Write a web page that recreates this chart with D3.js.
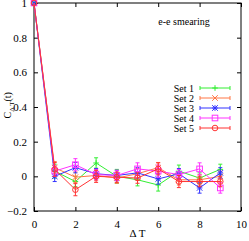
<!DOCTYPE html>
<html>
<head>
<meta charset="utf-8">
<script src="https://cdn.jsdelivr.net/npm/d3@7"></script>
<style>
  body { margin: 0; background: #fff; }
  text { font-family: "Liberation Serif", "DejaVu Serif", serif; font-size: 11px; fill: #000; }
</style>
</head>
<body>
<script>
var width = 249, height = 241
var margin = {top: 3, right: 8, bottom: 30, left: 34}

// delta T values
var steps = [0, 1, 2, 3, 4, 5, 6, 7, 8, 9]
var names = ["Set 1", "Set 2", "Set 3", "Set 4", "Set 5"]
var colors = ["#33ee33", "#ff7744", "#3333ff", "#ff33ff", "#ff3333"]
var set1 = [1, 0.03, -0.03, 0.077, 0.0, -0.02, -0.05, 0.03, -0.01, 0.04]
var set2 = [1, 0.05, -0.005, 0.005, -0.01, 0.015, 0.05, -0.02, -0.02, 0.0]
var set3 = [1, 0.0, 0.05, 0.015, 0.005, 0.02, -0.015, 0.015, -0.067, 0.02]
var set4 = [1, 0.03, 0.067, 0.01, 0.005, 0.043, 0.03, 0.01, 0.043, -0.067]
var set5 = [1, 0.04, -0.077, 0.0, -0.005, -0.01, 0.043, -0.03, -0.03, -0.03]
var err1 = [0, 0.04, 0.03, 0.03, 0.04, 0.035, 0.035, 0.035, 0.03, 0.03]
var err2 = [0, 0.035, 0.03, 0.03, 0.03, 0.03, 0.03, 0.03, 0.03, 0.03]
var err3 = [0, 0.03, 0.03, 0.03, 0.03, 0.03, 0.03, 0.03, 0.03, 0.03]
var err4 = [0, 0.03, 0.035, 0.03, 0.03, 0.035, 0.035, 0.03, 0.035, 0.03]
var err5 = [0, 0.04, 0.035, 0.035, 0.03, 0.03, 0.035, 0.035, 0.03, 0.03]
var xTicks = [0, 2, 4, 6, 8, 10]
var yTicks = [-0.2, 0, 0.2, 0.4, 0.6, 0.8, 1]

var series = [set1, set2, set3, set4, set5]
var errs = [err1, err2, err3, err4, err5]

var svg = d3.select("body").append("svg")
  .attr("width", width)
  .attr("height", height)

var x = d3.scaleLinear().domain([0, 10]).range([margin.left, width - margin.right])
var y = d3.scaleLinear().domain([-0.2, 1]).range([height - margin.bottom, margin.top])

var fmt = function(d) { return d3.format("")(+d.toFixed(1)) }

// axes, ticks pointing inward, mirrored on top/right
svg.append("g")
  .attr("transform", "translate(0," + y.range()[0] + ")")
  .call(d3.axisBottom(x).tickValues(xTicks).tickSizeInner(-4).tickSizeOuter(0).tickPadding(9))
svg.append("g")
  .attr("transform", "translate(0," + y.range()[1] + ")")
  .call(d3.axisTop(x).tickValues(xTicks).tickSizeInner(-4).tickSizeOuter(0).tickFormat(""))
svg.append("g")
  .attr("transform", "translate(" + x.range()[0] + ",0)")
  .call(d3.axisLeft(y).tickValues(yTicks).tickSizeInner(-4).tickSizeOuter(0).tickPadding(7).tickFormat(fmt))
svg.append("g")
  .attr("transform", "translate(" + x.range()[1] + ",0)")
  .call(d3.axisRight(y).tickValues(yTicks).tickSizeInner(-4).tickSizeOuter(0).tickFormat(""))

svg.selectAll(".domain").remove()
svg.append("rect")
  .attr("x", x.range()[0]).attr("y", y.range()[1])
  .attr("width", x.range()[1] - x.range()[0])
  .attr("height", y.range()[0] - y.range()[1])
  .attr("fill", "none").attr("stroke", "#000").attr("stroke-width", 1)
svg.selectAll(".tick line").attr("stroke", "#000")
svg.selectAll(".tick text").style("font-family", "Liberation Serif, serif").style("font-size", "11px")

// axis titles
var yl = svg.append("text")
  .attr("transform", "translate(11," + y(0.41) + ") rotate(-90)")
  .attr("text-anchor", "middle")
  .style("font-size", "10px")
yl.append("tspan").text("C")
yl.append("tspan").attr("dy", 3).style("font-size", "7px").text("\u0394 T")
yl.append("tspan").attr("dy", -3).text("(t)")

svg.append("text")
  .attr("x", x(5))
  .attr("y", 237)
  .attr("text-anchor", "middle")
  .text("\u0394 T")

svg.append("text")
  .attr("x", 184)
  .attr("y", 25)
  .attr("text-anchor", "middle")
  .style("font-size", "10px")
  .text("e-e smearing")

function marker(g, kind, cx, cy, col) {
  var s = 2.8
  if (kind === 0) {
    g.append("path").attr("d", "M" + (cx - s) + "," + cy + "H" + (cx + s) + "M" + cx + "," + (cy - s) + "V" + (cy + s))
      .attr("stroke", col).attr("fill", "none")
  } else if (kind === 1) {
    g.append("path").attr("d", "M" + (cx - s) + "," + (cy - s) + "L" + (cx + s) + "," + (cy + s) + "M" + (cx - s) + "," + (cy + s) + "L" + (cx + s) + "," + (cy - s))
      .attr("stroke", col).attr("fill", "none")
  } else if (kind === 2) {
    g.append("path").attr("d", "M" + (cx - s) + "," + cy + "H" + (cx + s) + "M" + cx + "," + (cy - s) + "V" + (cy + s) +
      "M" + (cx - s) + "," + (cy - s) + "L" + (cx + s) + "," + (cy + s) + "M" + (cx - s) + "," + (cy + s) + "L" + (cx + s) + "," + (cy - s))
      .attr("stroke", col).attr("fill", "none")
  } else if (kind === 3) {
    g.append("rect").attr("x", cx - s).attr("y", cy - s).attr("width", 2 * s).attr("height", 2 * s)
      .attr("stroke", col).attr("fill", "none")
  } else {
    g.append("circle").attr("cx", cx).attr("cy", cy).attr("r", s)
      .attr("stroke", col).attr("fill", "none")
  }
}

var line = d3.line()
  .x(function(d, i) { return x(steps[i]) })
  .y(function(d) { return y(d) })

series.forEach(function(vals, k) {
  var col = colors[k]
  var g = svg.append("g")
  g.append("path").datum(vals).attr("d", line)
    .attr("fill", "none").attr("stroke", col).attr("stroke-width", 1)
  vals.forEach(function(v, i) {
    var e = errs[k][i], cx = x(steps[i])
    if (e > 0) {
      g.append("path")
        .attr("d", "M" + cx + "," + y(v - e) + "V" + y(v + e) +
          "M" + (cx - 2) + "," + y(v - e) + "H" + (cx + 2) +
          "M" + (cx - 2) + "," + y(v + e) + "H" + (cx + 2))
        .attr("stroke", col).attr("fill", "none")
    }
    marker(g, k, cx, y(v), col)
  })

  // legend row
  var ly = 88 + k * 10
  svg.append("text").attr("x", 194).attr("y", ly + 3.5).attr("text-anchor", "end")
    .style("font-size", "10px").text(names[k])
  var lg = svg.append("g")
  lg.append("path")
    .attr("d", "M200," + ly + "H230M200," + (ly - 2) + "V" + (ly + 2) + "M230," + (ly - 2) + "V" + (ly + 2))
    .attr("stroke", col).attr("fill", "none")
  marker(lg, k, 215, ly, col)
})
</script>
</body>
</html>
